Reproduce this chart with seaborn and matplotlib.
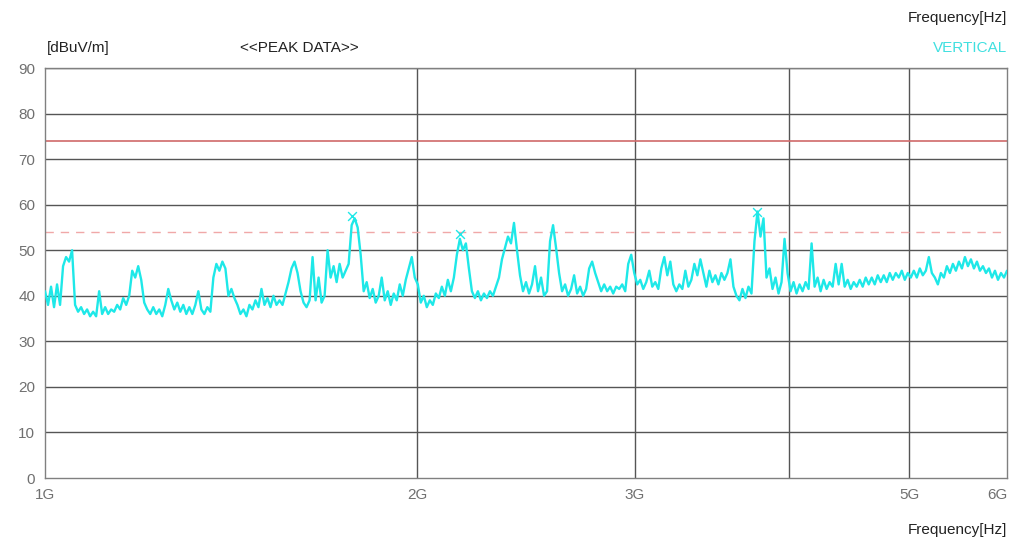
import numpy as np
import pandas as pd
import matplotlib
matplotlib.use("Agg")
import matplotlib.pyplot as plt
import seaborn as sns

sns.set_theme(style="white")
plt.rcParams["font.family"] = ["Liberation Sans", "DejaVu Sans"]

# one level per ~3 px of sweep, 1 GHz -> 6 GHz (log axis)
levels = [
    41, 38, 42, 37.5, 42.5, 38, 46.5, 48.5, 47.5, 50, 38, 36.5, 37.5, 36, 37, 35.5,
    36.5, 35.5, 41, 36, 37.5, 36, 37, 36.5, 38, 37, 39.5, 38, 40, 45.5, 44, 46.5,
    43.5, 38.5, 37, 36, 37.5, 36, 37, 35.5, 38, 41.5, 39, 37, 38.5, 36.5, 38, 36,
    37.5, 36, 38, 41, 37, 36, 37.5, 36.5, 44, 47, 45.5, 47.5, 46, 40, 41.5, 39.5,
    38, 36, 37, 35.5, 38, 37, 39, 37.5, 41.5, 38, 39.5, 37.5, 40, 38, 39, 38,
    40.5, 43, 46, 47.5, 45, 41, 38.5, 37.5, 39, 48.5, 39, 44, 38.5, 40, 50, 44,
    46.5, 43, 47, 44, 45.5, 47, 55.5, 57, 55, 49, 41, 43, 39.5, 41.5, 38.5, 40,
    44, 39, 41, 38, 40.5, 39, 42.5, 40, 43.5, 46, 48.5, 44, 42.5, 38.5, 40, 37.5,
    39, 38, 40.5, 39.5, 42, 40, 43.5, 41, 44, 49, 52.5, 50, 51.5, 46, 41, 39.5,
    41, 39, 40.5, 39.5, 41, 40, 42, 44, 48, 50.5, 53, 51.5, 56, 50, 44.5, 41,
    43, 40.5, 42.5, 46.5, 41, 44, 40, 41, 52, 55.5, 50.5, 45, 41, 42.5, 40, 41.5,
    44.5, 40.5, 42, 40, 41.5, 46, 47.5, 45, 43, 41, 42.5, 41, 42, 40.5, 42, 41.5,
    42.5, 41, 47, 49, 45, 42.5, 43.5, 41.5, 43, 45.5, 42, 43, 41.5, 46, 48.5, 44.5,
    47.5, 42.5, 41, 42.5, 41.5, 45.5, 42, 43.5, 47, 44.5, 48, 45, 42, 45.5, 43, 44.5,
    42.5, 45, 43.5, 45, 48, 42, 40, 39, 41.5, 39.5, 42, 40.5, 52, 58.5, 53, 57,
    44, 46, 41.5, 44, 40.5, 43, 52.5, 45, 41, 43, 40.5, 42.5, 41, 43, 41.5, 51.5,
    42, 44, 41, 43.5, 41.5, 43, 42, 47, 42.5, 47, 42, 43.5, 41.5, 43, 42, 43.5,
    42, 44, 42.5, 44, 42.5, 44.5, 43, 44.5, 43, 45, 43.5, 45, 44, 45.5, 43.5, 45,
    44, 45.5, 44, 46, 44.5, 45.5, 48.5, 45, 44, 42.5, 45, 44, 46.5, 45, 47, 45.5,
    47.5, 46, 48.5, 46.5, 48, 46, 47.5, 45.5, 46.5, 45, 46, 44, 45.5, 43.5, 45, 44,
    45.5,
]
freq_ghz = np.geomspace(1.0, 6.0, len(levels))

peak_freq = [1.772, 2.166, 3.767]
peak_level = [57.5, 53.5, 58.5]

limit_pk = 74
limit_av = 54

x_ticks = [1, 2, 3, 5, 6]
x_labels = ["1G", "2G", "3G", "5G", "6G"]
x_grid = [2, 3, 4, 5]
y_ticks = list(range(0, 100, 10))

df = pd.DataFrame({"freq": freq_ghz, "level": levels})

fig = plt.figure(figsize=(10.14, 5.44), dpi=100)
ax = fig.add_axes([0.0444, 0.1213, 0.9487, 0.7537])

for v in x_grid:
    ax.axvline(v, color="#555555", lw=1.0, zorder=1)
for v in y_ticks[1:]:
    ax.axhline(v, color="#555555", lw=1.0, zorder=1)

ax.axhline(limit_pk, color="#d06a6a", lw=1.2, zorder=2)
ax.axhline(limit_av, color="#f0a8a8", lw=1.0, ls=(0, (6, 5)), zorder=2)

sns.lineplot(data=df, x="freq", y="level", ax=ax, color="#1ee8e8",
             lw=1.7, estimator=None, sort=False, zorder=3)
ax.scatter(peak_freq, peak_level, marker="x", s=40, color="#1ee8e8",
           linewidths=1.0, zorder=4)

ax.set_xscale("log")
ax.set_xlim(1, 6)
ax.set_ylim(0, 90)
ax.set_xticks(x_ticks)
ax.set_xticklabels(x_labels)
ax.minorticks_off()
ax.set_yticks(y_ticks)
ax.tick_params(length=0, labelsize=11, colors="#707070", pad=7)
ax.get_xticklabels()[-1].set_ha("right")
ax.set_xlabel("")
ax.set_ylabel("")
for s in ax.spines.values():
    s.set_color("#808080")
    s.set_linewidth(1.0)

fig.text(47 / 1014, 1 - 48 / 544, "[dBuV/m]", fontsize=11, color="#222222", va="center")
fig.text(240 / 1014, 1 - 48 / 544, "<<PEAK DATA>>", fontsize=11, color="#222222", va="center")
fig.text(1007 / 1014, 1 - 18 / 544, "Frequency[Hz]", fontsize=11, color="#222222",
         ha="right", va="center")
fig.text(1007 / 1014, 1 - 48 / 544, "VERTICAL", fontsize=11, color="#40e0e0",
         ha="right", va="center")
fig.text(1007 / 1014, 1 - 530 / 544, "Frequency[Hz]", fontsize=11, color="#222222",
         ha="right", va="center")

fig.savefig("out.png", dpi=100)
